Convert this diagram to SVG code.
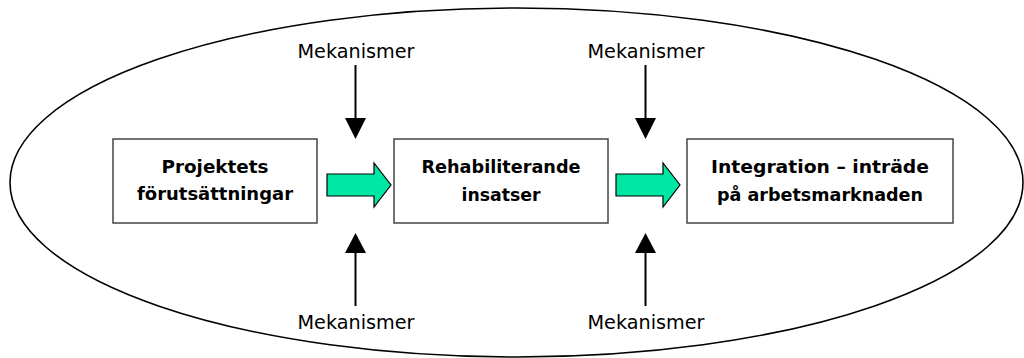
<svg xmlns="http://www.w3.org/2000/svg" width="1024" height="358" viewBox="0 0 1024 358">
<style>
.box{fill:#fff;stroke:#444;stroke-width:1.5}
.bt{font-family:"Comic Sans MS","DejaVu Sans",sans-serif;font-weight:bold;font-size:18px;fill:#000;text-anchor:middle}
.lbl{font-family:"Comic Sans MS","DejaVu Sans",sans-serif;font-size:19px;fill:#000;text-anchor:middle}
.ln{stroke:#000;stroke-width:2;fill:none}
.hd{fill:#000}
.ga{fill:#00E6A4;stroke:#000;stroke-width:1.2}
</style>
<rect width="1024" height="358" fill="#fff"/>
<ellipse id="frame" cx="516.5" cy="182.5" rx="506.5" ry="174.5" fill="none" stroke="#000" stroke-width="1.6"/>
<g id="node-projektets">
<rect class="box" x="113" y="139" width="204" height="84"/>
<text class="bt" x="215" y="173" textLength="107" lengthAdjust="spacingAndGlyphs">Projektets</text>
<text class="bt" x="215" y="200" textLength="156" lengthAdjust="spacingAndGlyphs">förutsättningar</text>
</g>
<g id="node-rehab">
<rect class="box" x="394" y="139" width="214" height="84"/>
<text class="bt" x="501" y="173" textLength="159" lengthAdjust="spacingAndGlyphs">Rehabiliterande</text>
<text class="bt" x="501" y="201" textLength="79" lengthAdjust="spacingAndGlyphs">insatser</text>
</g>
<g id="node-integration">
<rect class="box" x="687" y="139" width="266" height="84"/>
<text class="bt" x="820" y="173" textLength="218" lengthAdjust="spacingAndGlyphs">Integration – inträde</text>
<text class="bt" x="820" y="201" textLength="206" lengthAdjust="spacingAndGlyphs">på arbetsmarknaden</text>
</g>
<g id="labels">
<text class="lbl" x="356" y="58" textLength="117" lengthAdjust="spacingAndGlyphs">Mekanismer</text>
<text class="lbl" x="646" y="58" textLength="117" lengthAdjust="spacingAndGlyphs">Mekanismer</text>
<text class="lbl" x="356" y="329" textLength="117" lengthAdjust="spacingAndGlyphs">Mekanismer</text>
<text class="lbl" x="646" y="329" textLength="117" lengthAdjust="spacingAndGlyphs">Mekanismer</text>
</g>
<g id="connectors">
<polygon class="ga" points="327,174 374,174 374,163 391,185 374,207 374,196 327,196"/>
<polygon class="ga" points="616,174 663,174 663,163 680,185 663,207 663,196 616,196"/>
<line class="ln" x1="355.5" y1="65" x2="355.5" y2="120"/>
<polygon class="hd" points="345,118 366,118 355.5,139"/>
<line class="ln" x1="645.5" y1="65" x2="645.5" y2="120"/>
<polygon class="hd" points="635,118 656,118 645.5,139"/>
<line class="ln" x1="355.5" y1="306" x2="355.5" y2="251"/>
<polygon class="hd" points="345,253 366,253 355.5,233"/>
<line class="ln" x1="645.5" y1="306" x2="645.5" y2="251"/>
<polygon class="hd" points="635,253 656,253 645.5,233"/>
</g>
</svg>
